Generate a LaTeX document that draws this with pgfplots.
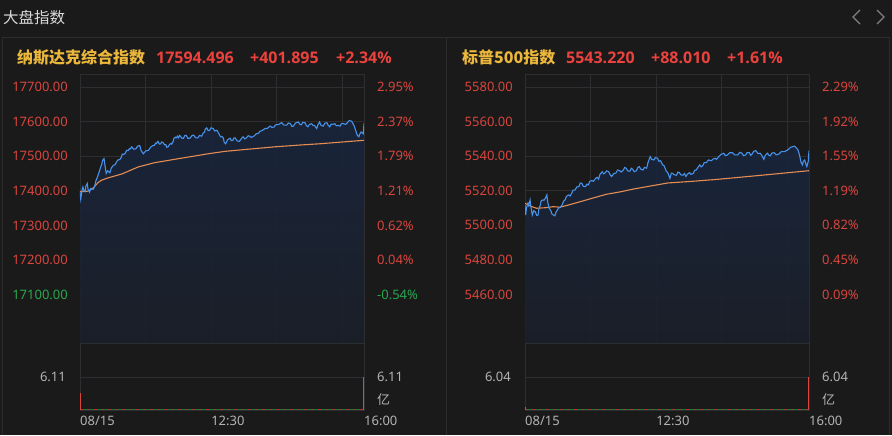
\documentclass[border=0pt]{standalone}
\usepackage{pgfplots}
\pgfplotsset{compat=1.18}
\usepackage{pgfplotstable}
\usepackage{fontspec}
\setmainfont{Noto Sans}
\newfontfamily\hdfont{Open Sans}
\newfontfamily\cjk{Noto Sans CJK SC}

\definecolor{bgc}{RGB}{26,26,26}
\definecolor{panelc}{RGB}{44,44,44}
\definecolor{gridc}{RGB}{44,46,50}
\definecolor{gold}{RGB}{236,184,60}
\definecolor{hdred}{RGB}{236,66,62}
\definecolor{tickred}{RGB}{216,70,62}
\definecolor{upg}{RGB}{40,168,78}
\definecolor{linec}{RGB}{70,146,236}
\definecolor{avgc}{RGB}{228,140,82}
\definecolor{areatop}{RGB}{25,38,62}
\definecolor{areabot}{RGB}{27,31,41}
\definecolor{graytxt}{RGB}{180,180,180}

% minutes since 09:30, index value
\pgfplotstableread{
t v
0 17396
1 17376
2 17390
3 17404
4 17411
5 17402
7 17398
8 17413
10 17421
11 17405
13 17396
15 17407
18 17404
20 17412
22 17430
24 17440
27 17459
28 17466
30 17478
31 17488
33 17493
34 17478
36 17450
38 17458
41 17452
43 17466
46 17474
48 17475
50 17483
52 17489
54 17490
55 17491
57 17498
58 17506
60 17505
62 17508
64 17517
66 17516
68 17522
69 17521
71 17527
74 17520
77 17522
79 17529
82 17531
84 17516
87 17507
90 17515
94 17517
97 17526
100 17531
102 17531
104 17538
105 17537
107 17543
109 17535
111 17536
112 17541
114 17540
116 17533
118 17533
119 17526
121 17527
123 17534
125 17537
126 17535
128 17543
129 17552
131 17555
132 17553
134 17558
135 17553
137 17560
140 17552
142 17552
144 17560
146 17560
148 17552
151 17552
154 17560
156 17561
159 17553
162 17553
164 17560
167 17558
169 17566
171 17570
172 17578
174 17582
176 17574
178 17575
180 17582
183 17580
185 17573
188 17575
190 17568
193 17556
195 17557
197 17552
198 17540
200 17536
203 17548
206 17552
208 17545
210 17546
211 17552
213 17553
216 17544
219 17543
222 17552
224 17556
226 17550
228 17552
231 17559
233 17558
235 17554
237 17556
240 17560
242 17565
245 17566
247 17572
250 17574
254 17580
257 17580
261 17587
264 17583
267 17585
268 17590
270 17591
273 17592
277 17597
280 17590
284 17590
286 17596
289 17594
291 17586
293 17587
296 17596
300 17599
302 17592
304 17591
306 17598
309 17597
311 17588
313 17585
315 17592
318 17594
320 17589
322 17589
325 17580
327 17592
329 17599
331 17589
334 17587
336 17595
339 17597
341 17589
343 17585
345 17593
347 17592
350 17594
352 17588
354 17589
357 17587
359 17594
362 17594
365 17592
368 17599
370 17603
373 17601
375 17594
377 17585
380 17565
381 17560
383 17556
384 17563
386 17570
389 17565
390 17594.5
}\nqprice

\pgfplotstableread{
t v
0 17398
6 17398
11 17399
18 17408
25 17424
29 17430
38 17437
58 17449
80 17469
102 17481
130 17491
176 17507
199 17514
230 17520
267 17527
300 17532
330 17536
360 17541
390 17546
}\nqavg

\pgfplotstableread{
t v
0 5511.8
1 5506
2 5510
4 5512.8
5 5511.5
7 5514.7
8 5511
10 5506
12 5508.5
14 5508
16 5505.8
18 5506
19 5509.5
21 5511.8
22 5514
24 5514.7
26 5514.5
28 5515.7
30 5517.6
31 5514
33 5510
34 5509.5
36 5508
37 5506.5
39 5506
41 5505.5
43 5508
44 5508.5
46 5510
48 5510.3
51 5511.8
53 5514
55 5514.7
57 5516.8
60 5517.6
62 5517
64 5518.5
66 5520.3
69 5520.5
71 5522.2
74 5522.4
76 5524.5
78 5524.3
80 5522.6
83 5522.4
85 5523.8
87 5523.4
89 5525.5
92 5525.9
94 5525.5
97 5527.2
99 5527.8
101 5526.7
103 5529.5
106 5531
108 5529.8
110 5530.3
112 5531.5
115 5531
117 5529.2
119 5528.2
122 5530
125 5530.3
127 5532
130 5531.6
132 5530.8
135 5532
137 5533.5
139 5533
141 5531.5
144 5531.3
146 5533
148 5532.4
150 5531
153 5531.6
155 5533.5
157 5534
159 5532.5
162 5532
164 5533.6
167 5533
169 5536.5
172 5539.7
174 5538.2
177 5537.8
179 5539.2
182 5538.8
184 5537
186 5537.4
189 5535
191 5534.5
194 5531.3
196 5530.5
199 5527.2
201 5530.2
203 5530
205 5529.2
208 5529
210 5530.8
212 5530.5
214 5529.2
217 5529
219 5530
221 5528.3
223 5529.6
226 5530.5
228 5529.5
231 5530
233 5531.8
235 5532
237 5533.2
240 5535
242 5533.8
244 5534.5
246 5536.2
249 5536.3
252 5537.8
256 5537.4
258 5538.2
261 5538.8
263 5538.2
266 5539.7
269 5541
273 5541.7
275 5540.3
278 5540.7
281 5542
285 5542
288 5540.8
292 5540.7
295 5542.2
298 5541.7
300 5540.3
303 5540.7
305 5542.1
308 5542
310 5540.5
312 5541.3
314 5542.8
317 5543.2
320 5541.5
323 5541.7
325 5540.5
328 5538.2
330 5540.5
333 5541.7
335 5540.5
337 5540.2
339 5541.8
342 5542
345 5540.8
349 5541.3
352 5542.7
356 5542.6
359 5543.2
362 5544
365 5545.2
368 5545.5
370 5545.8
373 5544.6
375 5543.5
377 5540.7
379 5536.5
381 5535
382 5537
384 5537.8
386 5535
387 5534
389 5537
390 5543.2
}\spprice

\pgfplotstableread{
t v
0 5512.8
8 5511
16 5509.9
28 5510.2
39 5510.8
48 5510.5
60 5511.8
76 5513.7
95 5516
112 5518
130 5519.3
149 5521
173 5522.8
196 5524.5
231 5525.5
264 5526.6
300 5528
328 5529.1
360 5530.4
390 5531.6
}\spavg

\pgfplotsset{
  mainstyle/.style={
    scale only axis, width=284pt, height=269pt,
    xmin=0, xmax=390, scaled y ticks=false,
    axis line style={draw=gridc, line width=0.6pt},
    xtick={90,180,270,360}, xticklabels={},
    major tick length=0pt,
    grid=major, grid style={gridc, line width=0.6pt},
    yticklabel style={text=tickred, inner sep=0pt, anchor=east, xshift=-12pt,
      font=\fontsize{13}{15}\selectfont},
  },
  pctstyle/.style={
    scale only axis, width=284pt, height=269pt,
    xmin=0, xmax=390, scaled y ticks=false,
    axis x line=none, axis y line*=right,
    y axis line style={draw=none},
    major tick length=0pt,
    yticklabel style={text=tickred, inner sep=0pt, anchor=west, xshift=13pt,
      font=\fontsize{13}{15}\selectfont},
  },
  volstyle/.style={
    scale only axis, width=284pt, height=67pt,
    xmin=0, xmax=390, ymin=0,
    axis line style={draw=gridc, line width=0.6pt},
    major tick length=0pt,
    ymajorgrids, grid style={gridc, line width=0.6pt},
    xtick={0,180,390}, xticklabels={08/15,12:30,16:00},
    xticklabel style={text=graytxt, inner sep=0pt, anchor=north west, yshift=-6pt,
      font=\fontsize{13}{15}\selectfont},
    yticklabel style={text=graytxt, inner sep=0pt, anchor=east, xshift=-14pt,
      font=\fontsize{13}{15}\selectfont},
  },
  volright/.style={
    scale only axis, width=284pt, height=67pt,
    xmin=0, xmax=390, ymin=0,
    axis x line=none, axis y line*=right,
    y axis line style={draw=none},
    major tick length=0pt,
    yticklabel style={text=graytxt, inner sep=0pt, anchor=west, xshift=13pt,
      font=\fontsize{13}{15}\selectfont},
  },
  area/.style={draw=none, top color=areatop, bottom color=areabot, fill opacity=0.9},
}

\begin{document}
\begin{tikzpicture}
\fill[bgc] (0pt,0pt) rectangle (892pt,-435pt);
\draw[panelc, line width=0.8pt] (2.5pt,-435pt) |- (446.5pt,-37.5pt) -- (446.5pt,-435pt);
\draw[panelc, line width=0.8pt] (446.5pt,-37.5pt) -- (889.5pt,-37.5pt) -- (889.5pt,-435pt);

\node[anchor=base west, inner sep=0pt, text=white!85!black,
  font=\cjk\fontsize{15.5}{17}\selectfont] at (3pt,-24pt) {大盘指数};
\draw[gray, line width=1.1pt] (860pt,-10pt) -- (853pt,-17pt) -- (860pt,-24pt);
\draw[gray, line width=1.1pt] (877pt,-10pt) -- (884pt,-17pt) -- (877pt,-24pt);

% headers
\node[anchor=base west, inner sep=0pt, text=gold,
  font=\cjk\bfseries\fontsize{16}{18}\selectfont] at (17pt,-64pt) {纳斯达克综合指数};
\begin{scope}[every node/.style={anchor=base west, inner sep=0pt, text=hdred,
  font=\hdfont\bfseries\fontsize{16}{18}\selectfont}]
\node at (156pt,-64pt) {17594.496};
\node at (250pt,-64pt) {+401.895};
\node at (336pt,-64pt) {+2.34\%};
\node at (566pt,-64pt) {5543.220};
\node at (651pt,-64pt) {+88.010};
\node at (727pt,-64pt) {+1.61\%};
\end{scope}
\node[anchor=base west, inner sep=0pt, text=gold,
  font=\cjk\bfseries\fontsize{16}{18}\selectfont] at (462pt,-64pt) {标普500指数};

% ---- Nasdaq price
\begin{axis}[mainstyle, at={(80pt,-343pt)}, anchor=south west,
  ymin=16960, ymax=17737.6,
  ytick={17000,17100,17200,17300,17400,17500,17600,17700},
  yticklabels={,\textcolor{upg}{17100.00},17200.00,17300.00,17400.00,17500.00,17600.00,17700.00}]
\addplot[area] table[x=t,y=v] {\nqprice} \closedcycle;
\addplot[avgc, line width=1.1pt] table[x=t,y=v] {\nqavg};
\addplot[linec, line width=1.1pt] table[x=t,y=v] {\nqprice};
\end{axis}
\begin{axis}[pctstyle, at={(80pt,-343pt)}, anchor=south west,
  ymin=16960, ymax=17737.6,
  ytick={17100,17200,17300,17400,17500,17600,17700},
  yticklabels={\textcolor{upg}{-0.54\%},0.04\%,0.62\%,1.21\%,1.79\%,2.37\%,2.95\%}]
\addplot[draw=none] coordinates {(0,17400)};
\end{axis}

% ---- Nasdaq volume
\begin{axis}[volstyle, at={(80pt,-410pt)}, anchor=south west,
  ymax=12.4, ytick={6.11}, yticklabels={6.11}]
\addplot[upg!70!black, line width=1pt] coordinates {(0,0.12) (390,0.12)};
\addplot[tickred!80!black, line width=1pt, dash pattern=on 3pt off 4pt] coordinates {(0,0.12) (390,0.12)};
\addplot[ycomb, tickred, line width=1.2pt, mark=none] coordinates {(0.6,3.15) (389.4,6.11)};
\end{axis}
\begin{axis}[volright, at={(80pt,-410pt)}, anchor=south west,
  ymax=12.4, ytick={1.85,6.11}, yticklabels={\cjk 亿,6.11}]
\addplot[draw=none] coordinates {(0,1)};
\end{axis}

% ---- S&P price
\begin{axis}[mainstyle, at={(525pt,-343pt)}, anchor=south west,
  ymin=5432, ymax=5587.5,
  ytick={5440,5460,5480,5500,5520,5540,5560,5580},
  yticklabels={,5460.00,5480.00,5500.00,5520.00,5540.00,5560.00,5580.00}]
\addplot[area] table[x=t,y=v] {\spprice} \closedcycle;
\addplot[avgc, line width=1.1pt] table[x=t,y=v] {\spavg};
\addplot[linec, line width=1.1pt] table[x=t,y=v] {\spprice};
\end{axis}
\begin{axis}[pctstyle, at={(525pt,-343pt)}, anchor=south west,
  ymin=5432, ymax=5587.5,
  ytick={5460,5480,5500,5520,5540,5560,5580},
  yticklabels={0.09\%,0.45\%,0.82\%,1.19\%,1.55\%,1.92\%,2.29\%}]
\addplot[draw=none] coordinates {(0,5500)};
\end{axis}

% ---- S&P volume
\begin{axis}[volstyle, at={(525pt,-410pt)}, anchor=south west,
  ymax=12.26, ytick={6.04}, yticklabels={6.04}]
\addplot[upg!70!black, line width=1pt] coordinates {(0,0.12) (390,0.12)};
\addplot[tickred!80!black, line width=1pt, dash pattern=on 3pt off 4pt] coordinates {(0,0.12) (390,0.12)};
\addplot[ycomb, tickred, line width=1.2pt, mark=none] coordinates {(0.6,0.5) (389.4,6.04)};
\end{axis}
\begin{axis}[volright, at={(525pt,-410pt)}, anchor=south west,
  ymax=12.26, ytick={1.83,6.04}, yticklabels={\cjk 亿,6.04}]
\addplot[draw=none] coordinates {(0,1)};
\end{axis}
\end{tikzpicture}
\end{document}
